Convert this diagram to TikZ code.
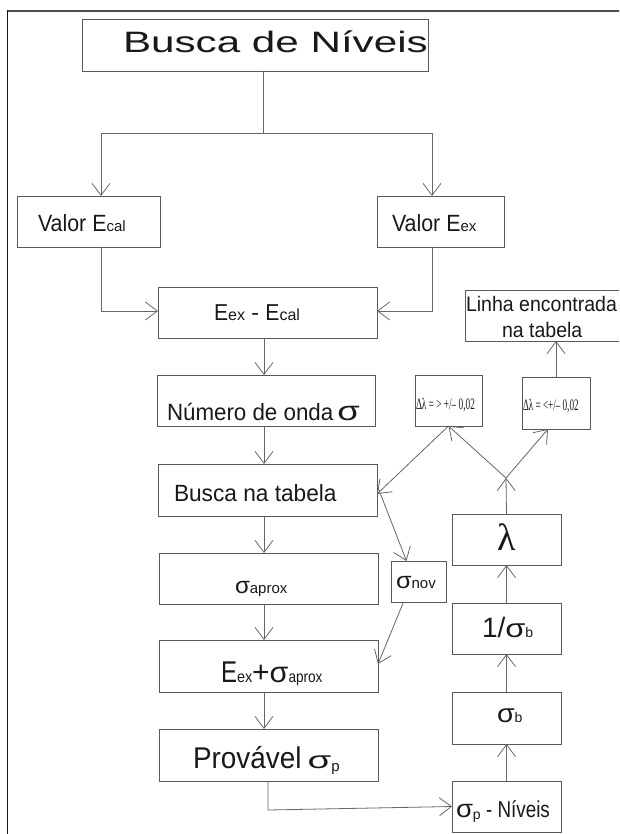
\documentclass[tikz,border=0pt]{standalone}
\usepackage{graphicx}
\usepackage{fontspec}
\setmainfont{Liberation Sans}
\newfontfamily\serifl{Liberation Serif}
\usetikzlibrary{arrows.meta}
\newcommand\fs[1]{\fontsize{#1}{#1}\selectfont}
\newcommand\sx[2]{\scalebox{#1}[1]{#2}}
\newcommand\sig[2]{\sx{#2}{\fs{#1}σ}}
\begin{document}
\begin{tikzpicture}[x=1pt,y=-1pt,
  box/.style={draw=black!65, line width=0.9pt, inner sep=0pt, outer sep=0pt, rectangle},
  tx/.style={inner sep=0pt, outer sep=0pt, anchor=base west, text=black!90},
  conn/.style={draw=black!60, line width=0.8pt},
  arr/.style={conn, -{Straight Barb[length=12pt,width=18pt]}},
]
\useasboundingbox (0,0) rectangle (619,834);
\begin{scope}
\clip (0,0) rectangle (619,834);
\draw[black!70, line width=1.6pt] (7.5,11) -- (625,11);
\draw[black!90, line width=1.6pt] (7.5,10.2) -- (7.5,840);

% boxes
\node[box, minimum width=346pt, minimum height=52pt] (top)   at (255,45) {};
\node[box, minimum width=143pt, minimum height=51pt] (ecal)  at (88.5,221.5) {};
\node[box, minimum width=127pt, minimum height=51pt] (eex)   at (440.5,221.5) {};
\node[box, minimum width=219pt, minimum height=51pt] (diff)  at (267.5,312.5) {};
\node[box, minimum width=218pt, minimum height=51pt] (num)   at (266,400.5) {};
\node[box, minimum width=219pt, minimum height=52pt] (busca) at (267.5,490) {};
\node[box, minimum width=219pt, minimum height=51pt] (aprox) at (268.5,578.5) {};
\node[box, minimum width=219pt, minimum height=52pt] (sum)   at (268.5,666) {};
\node[box, minimum width=219pt, minimum height=52pt] (prov)  at (268.5,755) {};
\node[box, minimum width=55pt,  minimum height=41pt] (nov)   at (418.5,581.5) {};
\node[box, minimum width=109pt, minimum height=51pt] (lam)   at (506.5,539.5) {};
\node[box, minimum width=109pt, minimum height=51pt] (inv)   at (506.5,628.5) {};
\node[box, minimum width=109pt, minimum height=52pt] (sb)    at (506.5,718) {};
\node[box, minimum width=109pt, minimum height=51pt] (spn)   at (506.5,806.5) {};
\node[box, minimum width=67pt,  minimum height=51pt] (dl1)   at (448.5,400.5) {};
\node[box, minimum width=68pt,  minimum height=52pt] (dl2)   at (556,403) {};
\node[box, minimum width=159pt, minimum height=51pt] (linha) at (544.5,315.5) {};

% texts
\node[tx] at (123,53) {\fs{29.5}\sx{1.43}{Busca de Níveis}};
\node[tx] at (38,232) {\fs{23.5}\sx{0.91}{Valor E}\fs{15}cal};
\node[tx] at (392,232) {\fs{23.5}\sx{0.91}{Valor E}\fs{15}ex};
\node[tx] at (214,320) {\sx{0.92}{\fs{23}E}\fs{16}ex\fs{23} - \sx{0.92}{E}\fs{16}cal};
\node[tx] at (167,420) {\fs{23.5}\sx{0.95}{Número de onda}\hspace{4pt}\sig{27}{1.35}};
\node[tx] at (174,501) {\fs{23.5}\sx{0.965}{Busca na tabela}};
\node[tx] at (235,593) {\sig{23}{1.05}\fs{15}aprox};
\node[tx] at (221,682) {\sx{0.8}{\fs{30}E}\sx{0.9}{\fs{16}ex}\fs{30}+\sig{29}{1.05}\sx{0.85}{\fs{16}aprox}};
\node[tx] at (193,768) {\fs{30}\sx{0.93}{Provável}\hspace{6pt}\sig{24}{1.6}\raisebox{-3pt}{\fs{15}p}};
\node[tx] at (396,588) {\sig{23}{1.1}\fs{15}nov};
\node[tx, anchor=base] at (507,550) {\serifl\fs{38}λ};
\node[tx] at (482,637) {\fs{28}1/\sig{26}{1.25}\fs{14}b};
\node[tx] at (497,722) {\sig{26}{1.1}\fs{14}b};
\node[tx] at (456,817) {\sig{25}{1.1}\raisebox{-2pt}{\fs{14}p}\fs{23}\sx{0.82}{ - Níveis}};
\node[tx] at (416,409) {\serifl\fs{16}\sx{0.58}{Δλ = > +/– 0,02}};
\node[tx] at (523,410) {\serifl\fs{16}\sx{0.57}{Δλ = <+/– 0,02}};
\node[tx] at (466,311) {\fs{21}\sx{0.93}{Linha encontrada}};
\node[tx] at (502,337) {\fs{21}\sx{0.93}{na tabela}};

% connectors
\coordinate (split) at (263,133);
\coordinate (bl) at (101,133);
\coordinate (br) at (432,133);
\draw[conn] (split |- top.south) -- (split);
\draw[conn] (bl) -- (br);
\draw[arr] (bl) -- (bl |- ecal.north);
\draw[arr] (br) -- (br |- eex.north);
\draw[arr] (bl |- ecal.south) |- ([yshift=1.5pt]diff.west);
\draw[arr] (br |- eex.south) |- ([yshift=1.5pt]diff.east);
\coordinate (vx) at (264,0);
\draw[arr] (vx |- diff.south) -- (vx |- num.north);
\draw[arr] (vx |- num.south) -- (vx |- busca.north);
\draw[arr] (vx |- busca.south) -- (vx |- aprox.north);
\draw[arr] (vx |- aprox.south) -- (vx |- sum.north);
\draw[arr] (vx |- sum.south) -- (vx |- prov.north);
\coordinate (pv) at (268,810);
\draw[arr] (pv |- prov.south) -- (pv) -- (spn.west);
\draw[arr] (spn.north) -- (sb.south);
\draw[arr] (sb.north) -- (inv.south);
\draw[arr] (inv.north) -- (lam.south);
\coordinate (junc) at (506,478);
\draw[arr] (lam.north) -- (junc);
\draw[arr] (junc) -- (dl1.south);
\draw[arr] (junc) -- ([xshift=-8pt]dl2.south);
\draw[arr] (dl1.south) -- ([yshift=-4pt]busca.east);
\draw[arr] (dl2.north) -- (dl2.north |- linha.south);
\draw[arr] ([yshift=5pt]busca.east) -- ([xshift=-12pt]nov.north);
\draw[arr] ([xshift=-15pt]nov.south) -- ([yshift=2pt]sum.east);
\end{scope}
\end{tikzpicture}
\end{document}
